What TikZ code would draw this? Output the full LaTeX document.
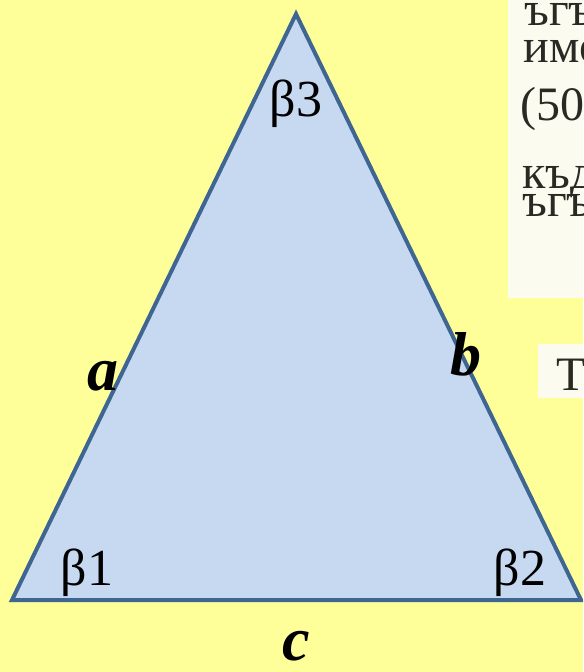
\documentclass[tikz,border=0pt]{standalone}
\usepackage{fontspec}
\setmainfont{Liberation Serif}
\usetikzlibrary{positioning}

\definecolor{bgyellow}{HTML}{FFFF99}
\definecolor{trifill}{HTML}{C6D9F0}
\definecolor{triedge}{HTML}{3F6592}
\definecolor{scanpaper}{HTML}{FBFBF0}
\definecolor{scanink}{HTML}{2A2A24}

\begin{document}
\begin{tikzpicture}[x=0.5pt, y=-0.5pt,
  side/.style={draw=triedge, line width=2pt, line join=miter, fill=trifill},
  angl/.style={font=\fontsize{26}{30}\selectfont, inner sep=0pt, anchor=base},
  sidelbl/.style={font=\fontsize{31}{36}\selectfont\bfseries\itshape, inner sep=0pt, anchor=base},
  scan/.style={font=\fontsize{24}{28}\selectfont, text=scanink, inner sep=0pt, anchor=base west}
]

% --- page: yellow ground, clipped to the slide ---
\clip (0,0) rectangle (583,672);
\fill[bgyellow] (0,0) rectangle (583,672);

% --- scanned text pieces at the right edge (cut off by the slide) ---
\fill[scanpaper] (508,0) rectangle (583,298);
\node[scan] (s1) at (524,26) {ъгъ};
\node[scan] (s2) at (523,63) {имо};
\node[scan] (s3) at (520,121) {(50.};
\node[scan] (s4) at (522,189) {къд};
\node[scan] (s5) at (522,217) {ъгъ};
\fill[scanpaper] (538,344) rectangle (583,398);
\node[scan] (s6) at (556,390) {Т};

% --- triangle ---
\coordinate (top) at (296,14);
\coordinate (bl) at (12,600);
\coordinate (br) at (581,600);
\draw[side] (top) -- (bl) -- (br) -- cycle;

% --- angles ---
\node[angl] (b3) at (296,117) {β3};
\node[angl] (b1) at (87,585) {β1};
\node[angl] (b2) at (520,585) {β2};

% --- sides ---
\node[sidelbl] (sa) at (103,390) {a};
\node[sidelbl] (sb) at (466,375) {b};
\node[sidelbl] (sc) at (296,660) {c};

\end{tikzpicture}
\end{document}
